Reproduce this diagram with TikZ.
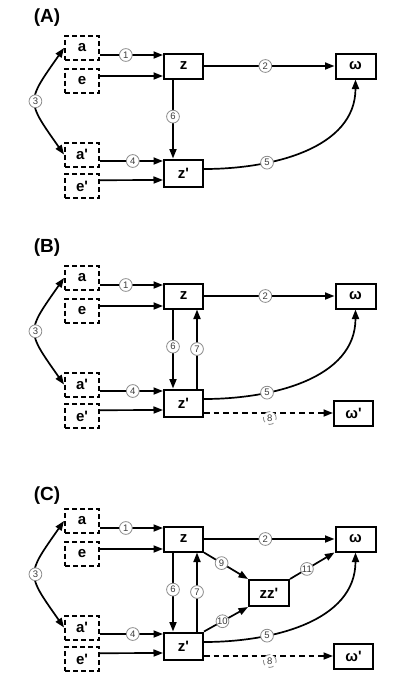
\documentclass[tikz,border=0pt]{standalone}
\usepackage{fontspec}
\setmainfont{Liberation Sans}
\usetikzlibrary{positioning,arrows.meta}
\definecolor{RingGray}{RGB}{140,140,140}
\definecolor{DigitGray}{RGB}{60,60,60}
\newcommand{\prm}{\textquotesingle}
\tikzset{
  flow/.style={-{Triangle[length=9.5pt,width=7pt]},line width=1.7pt,draw=black},
  dualflow/.style={{Triangle[length=9.5pt,width=7pt]}-{Triangle[length=9.5pt,width=7pt]},
    line width=1.7pt,draw=black},
  dashflow/.style={flow,dash pattern=on 5.5pt off 4pt},
  obsbox/.style={draw,line width=2pt,dash pattern=on 5pt off 3pt,
    minimum width=34pt,minimum height=24pt,inner sep=0pt,
    font=\fontsize{15}{15}\selectfont\bfseries},
  latbox/.style={draw,line width=2pt,minimum width=39pt,minimum height=25pt,
    inner sep=0pt,font=\fontsize{15}{15}\selectfont\bfseries},
  num/.style={circle,draw=RingGray,fill=white,line width=0.8pt,minimum size=12.8pt,
    inner sep=0pt,text=DigitGray,font=\fontsize{9.5}{9.5}\selectfont},
  panel/.style={inner sep=0pt,font=\fontsize{19}{19}\selectfont\bfseries}
}
\begin{document}
\begin{tikzpicture}[x=1pt,y=1pt]
  \useasboundingbox (0,0) rectangle (412,-691);

  % (A)
  \node[panel] (lblA) at (47,-18) {(A)};
  \node[obsbox] (a1) at (82,-48) {a};
  \node[obsbox,below=6.5pt of a1] (e1) {e};
  \node[obsbox] (ap1) at (82,-154.5) {a\prm};
  \node[obsbox,below=5.7pt of ap1] (ep1) {e\prm};
  \node[latbox] (z1) at (183.5,-66) {z};
  \node[latbox,minimum height=27pt] (zp1) at (183.5,-173) {z\prm};
  \node[latbox,minimum width=40pt] (w1) at (355.5,-66) {ω};
  \draw[flow] ([yshift=-7pt]a1.east) -- node[num,pos=0.41]{1} ([yshift=11pt]z1.west);
  \draw[flow] ([yshift=4.5pt]e1.east) -- ([yshift=-10pt]z1.west);
  \draw[flow] (z1) -- node[num,pos=0.47]{2} (w1);
  \draw[dualflow] (a1.west) to[out=235,in=125,looseness=1.6] node[num]{3} (ap1.west);
  \draw[flow] ([yshift=-6.5pt]ap1.east) -- node[num,pos=0.52]{4} ([yshift=12pt]zp1.west);
  \draw[flow] ([yshift=6pt]ep1.east) -- ([yshift=-7pt]zp1.west);
  \draw[flow] ([yshift=4pt]zp1.east) to[out=0,in=-90] node[num,pos=0.3]{5} (w1.south);
  \draw[flow] ([xshift=-10.5pt]z1.south) -- node[num,pos=0.47]{6} ([xshift=-10.5pt]zp1.north);

  % (B)
  \begin{scope}[yshift=-230pt]
    \node[panel] (lblB) at (47,-18) {(B)};
    \node[obsbox] (a2) at (82,-48) {a};
    \node[obsbox,below=6.5pt of a2] (e2) {e};
    \node[obsbox] (ap2) at (82,-154.5) {a\prm};
    \node[obsbox,below=5.7pt of ap2] (ep2) {e\prm};
    \node[latbox] (z2) at (183.5,-66) {z};
    \node[latbox,minimum height=27pt] (zp2) at (183.5,-173) {z\prm};
    \node[latbox,minimum width=40pt] (w2) at (355.5,-66) {ω};
    \node[latbox] (wp2) at (353.5,-183) {ω\prm};
    \draw[flow] ([yshift=-7pt]a2.east) -- node[num,pos=0.41]{1} ([yshift=11pt]z2.west);
    \draw[flow] ([yshift=4.5pt]e2.east) -- ([yshift=-10pt]z2.west);
    \draw[flow] (z2) -- node[num,pos=0.47]{2} (w2);
    \draw[dualflow] (a2.west) to[out=235,in=125,looseness=1.6] node[num]{3} (ap2.west);
    \draw[flow] ([yshift=-6.5pt]ap2.east) -- node[num,pos=0.52]{4} ([yshift=12pt]zp2.west);
    \draw[flow] ([yshift=6pt]ep2.east) -- ([yshift=-7pt]zp2.west);
    \draw[flow] ([yshift=4pt]zp2.east) to[out=0,in=-90] node[num,pos=0.3]{5} (w2.south);
    \draw[flow] ([xshift=-10.5pt]z2.south) -- node[num,pos=0.47]{6} ([xshift=-10.5pt]zp2.north);
    \draw[flow] ([xshift=13.5pt]zp2.north) -- node[num]{7} ([xshift=13.5pt]z2.south);
    \draw[dashflow] ([yshift=-10pt]zp2.east) -- node[num,pos=0.51,yshift=-5pt]{8} (wp2.west);
  \end{scope}

  % (C)
  \begin{scope}[yshift=-473pt]
    \node[panel] (lblC) at (47,-22.5) {(C)};
    \node[obsbox] (a3) at (82,-48) {a};
    \node[obsbox,below=6.5pt of a3] (e3) {e};
    \node[obsbox] (ap3) at (82,-154.5) {a\prm};
    \node[obsbox,below=5.7pt of ap3] (ep3) {e\prm};
    \node[latbox] (z3) at (183.5,-66) {z};
    \node[latbox,minimum height=27pt] (zp3) at (183.5,-173) {z\prm};
    \node[latbox,minimum width=40pt] (w3) at (355.5,-66) {ω};
    \node[latbox] (wp3) at (353.5,-183) {ω\prm};
    \node[latbox,minimum width=40pt,minimum height=26pt] (zz3) at (269,-120) {zz\prm};
    \draw[flow] ([yshift=-7pt]a3.east) -- node[num,pos=0.41]{1} ([yshift=11pt]z3.west);
    \draw[flow] ([yshift=4.5pt]e3.east) -- ([yshift=-10pt]z3.west);
    \draw[flow] (z3) -- node[num,pos=0.47]{2} (w3);
    \draw[dualflow] (a3.west) to[out=235,in=125,looseness=1.6] node[num]{3} (ap3.west);
    \draw[flow] ([yshift=-6.5pt]ap3.east) -- node[num,pos=0.52]{4} ([yshift=12pt]zp3.west);
    \draw[flow] ([yshift=6pt]ep3.east) -- ([yshift=-7pt]zp3.west);
    \draw[flow] ([yshift=4pt]zp3.east) to[out=0,in=-90] node[num,pos=0.3]{5} (w3.south);
    \draw[flow] ([xshift=-10.5pt]z3.south) -- node[num,pos=0.47]{6} ([xshift=-10.5pt]zp3.north);
    \draw[flow] ([xshift=13.5pt]zp3.north) -- node[num]{7} ([xshift=13.5pt]z3.south);
    \draw[dashflow] ([yshift=-10pt]zp3.east) -- node[num,pos=0.51,yshift=-5pt]{8} (wp3.west);
    \draw[flow] (z3.south east) -- node[num,pos=0.4]{9} (zz3.north west);
    \draw[flow] (zp3.north east) -- node[num,pos=0.42]{10} (zz3.south west);
    \draw[flow] (zz3.north east) -- node[num,pos=0.38]{11} (w3.south west);
  \end{scope}
\end{tikzpicture}
\end{document}
